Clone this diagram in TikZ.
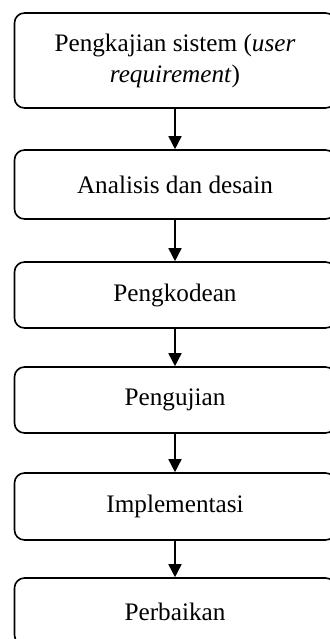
\documentclass[tikz,border=0pt]{standalone}
\usepackage{fontspec}
\setmainfont{Liberation Serif}
\usetikzlibrary{arrows.meta}
\begin{document}
\begin{tikzpicture}[x=1pt,y=-1pt,
  stepbox/.style={draw=black,line width=1.6pt,rounded corners=10pt,inner sep=0pt,
    minimum width=321pt,align=center,font=\fontsize{25.2}{31}\selectfont},
  arr/.style={line width=1.6pt,-{Triangle[width=13pt,length=13pt]}}]
\useasboundingbox (0,0) rectangle (329,639);
\node[stepbox,minimum height=95pt] (b1) at (175,60.5) {Pengkajian sistem (\textit{user}\\\textit{requirement})};
\node[stepbox,minimum height=69pt] (b2) at (175,184.5) {Analisis dan desain};
\node[stepbox,minimum height=66pt] (b3) at (175,295) {Pengkodean};
\node[stepbox,minimum height=66pt] (b4) at (175,400) {Pengujian};
\node[stepbox,minimum height=67pt] (b5) at (175,506.5) {Implementasi};
\node[stepbox,minimum height=67pt] (b6) at (175,611.5) {Perbaikan};
\draw[arr] (b1) -- (b2);
\draw[arr] (b2) -- (b3);
\draw[arr] (b3) -- (b4);
\draw[arr] (b4) -- (b5);
\draw[arr] (b5) -- (b6);
\end{tikzpicture}
\end{document}
